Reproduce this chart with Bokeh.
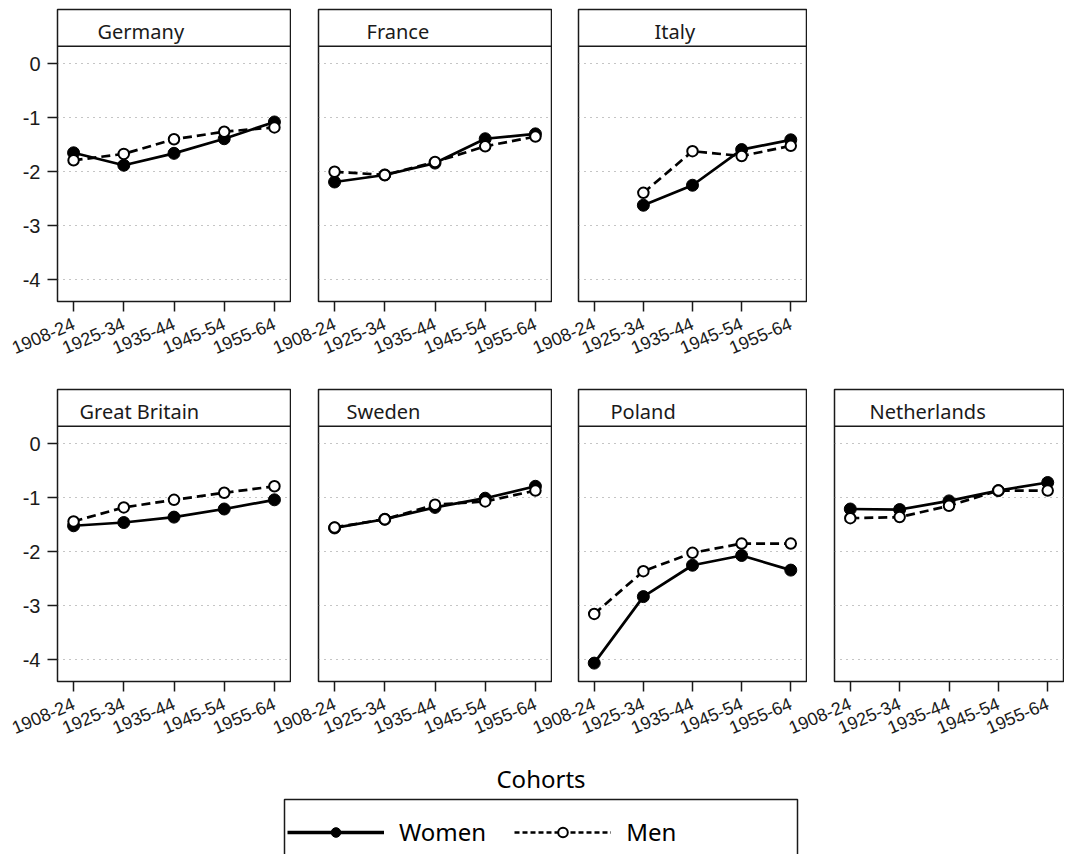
import math
from bokeh.plotting import figure
from bokeh.models import Range1d, FixedTicker, Span, Label, Legend, LegendItem, ColumnDataSource
from bokeh.layouts import column, row
from bokeh.embed import file_html
from bokeh.resources import INLINE

# ---------------- data ----------------
cohorts = ["1908-24", "1925-34", "1935-44", "1945-54", "1955-64"]
y_ticks = [0, -1, -2, -3, -4]
y_tick_labels = ["0", "-1", "-2", "-3", "-4"]
NA = float("nan")

germany_women = [-1.65, -1.88, -1.66, -1.39, -1.08]
germany_men = [-1.79, -1.67, -1.40, -1.26, -1.18]
france_women = [-2.19, -2.06, -1.84, -1.39, -1.30]
france_men = [-2.00, -2.06, -1.82, -1.53, -1.35]
italy_women = [NA, -2.62, -2.25, -1.59, -1.41]
italy_men = [NA, -2.39, -1.62, -1.71, -1.52]
britain_women = [-1.52, -1.46, -1.36, -1.21, -1.04]
britain_men = [-1.44, -1.18, -1.04, -0.91, -0.79]
sweden_women = [-1.56, -1.40, -1.18, -1.01, -0.79]
sweden_men = [-1.55, -1.40, -1.13, -1.07, -0.87]
poland_women = [-4.06, -2.83, -2.25, -2.07, -2.34]
poland_men = [-3.15, -2.36, -2.02, -1.85, -1.85]
netherlands_women = [-1.21, -1.22, -1.06, -0.87, -0.72]
netherlands_men = [-1.38, -1.36, -1.15, -0.87, -0.87]

# ---------------- layout / style ----------------
FRAME_W = [233, 233, 228, 229]
FRAME_H = 292
LEFT = [57, 87, 86, 87]
SHIFT = [0, 60, 60, 60]
INK = "#1a1a1a"
AXIS_FONT = "Liberation Sans"
STRIP_FONT = "Noto Sans"
X_RANGE = (-0.32, 4.32)
Y_RANGE = (-4.40, 1.0)
STRIP_LINE = 0.32
STRIP_TEXT_Y = 0.60

xs = list(range(len(cohorts)))


def make_panel(name, w, m, col, top_row, label_dx):
    p = figure(frame_width=FRAME_W[col], frame_height=FRAME_H,
               x_range=Range1d(*X_RANGE), y_range=Range1d(*Y_RANGE),
               min_border_left=LEFT[col], min_border_right=1,
               min_border_top=(9 if top_row else 1),
               min_border_bottom=(87 if top_row else 60),
               output_backend="svg", toolbar_location=None,
               border_fill_color=None, background_fill_color="white",
               outline_line_color=INK, outline_line_width=1.5)
    if SHIFT[col]:
        p.margin = (0, 0, 0, -SHIFT[col])

    # x axis
    xa = p.xaxis[0]
    xa.ticker = FixedTicker(ticks=xs)
    xa.major_label_overrides = {i: c for i, c in enumerate(cohorts)}
    xa.major_label_orientation = math.radians(23)
    xa.major_tick_out = 10
    xa.major_tick_in = 0
    xa.minor_tick_line_color = None
    xa.axis_line_color = None
    xa.major_tick_line_color = INK
    xa.major_tick_line_width = 1.5
    xa.major_label_text_font = AXIS_FONT
    xa.major_label_text_font_size = "18px"
    xa.major_label_text_color = INK
    xa.major_label_standoff = 11

    # y axis
    ya = p.yaxis[0]
    ya.ticker = FixedTicker(ticks=y_ticks)
    ya.major_label_overrides = {t: s for t, s in zip(y_ticks, y_tick_labels)}
    ya.major_tick_out = 10
    ya.major_tick_in = 0
    ya.minor_tick_line_color = None
    ya.axis_line_color = None
    ya.major_tick_line_color = INK
    ya.major_tick_line_width = 1.5
    ya.major_label_text_font = AXIS_FONT
    ya.major_label_text_font_size = "20px"
    ya.major_label_text_color = INK
    ya.major_label_standoff = 7
    if col != 0:
        ya.visible = False

    p.xgrid.visible = False
    p.ygrid.ticker = FixedTicker(ticks=y_ticks)
    p.ygrid.grid_line_color = "#8a8a8a"
    p.ygrid.grid_line_dash = "1 5"
    p.ygrid.grid_line_width = 1

    # strip
    p.add_layout(Span(location=STRIP_LINE, dimension="width",
                      line_color=INK, line_width=1.5))
    p.add_layout(Label(x=X_RANGE[0], y=STRIP_TEXT_Y, x_offset=label_dx,
                       text=name, text_font=STRIP_FONT, text_font_size="20px",
                       text_color=INK, text_baseline="alphabetic"))

    src = ColumnDataSource(dict(x=xs, w=w, m=m))
    p.line("x", "m", source=src, line_color="black", line_width=2.7, line_dash="9 5")
    p.line("x", "w", source=src, line_color="black", line_width=2.7)
    p.scatter("x", "w", source=src, size=12, marker="circle",
              fill_color="black", line_color="black", line_width=1)
    p.scatter("x", "m", source=src, size=10.5, marker="circle",
              fill_color="white", line_color="black", line_width=2)
    return p


top = [
    make_panel("Germany", germany_women, germany_men, 0, True, 40),
    make_panel("France", france_women, france_men, 1, True, 48),
    make_panel("Italy", italy_women, italy_men, 2, True, 76),
]
bottom = [
    make_panel("Great Britain", britain_women, britain_men, 0, False, 22),
    make_panel("Sweden", sweden_women, sweden_men, 1, False, 28),
    make_panel("Poland", poland_women, poland_men, 2, False, 32),
    make_panel("Netherlands", netherlands_women, netherlands_men, 3, False, 35),
]

# ---------------- legend figure ----------------
lg = figure(frame_width=513, frame_height=57,
            x_range=Range1d(0, 1), y_range=Range1d(0, 1),
            min_border_left=284, min_border_right=266,
            min_border_top=56, min_border_bottom=0,
            output_backend="svg", toolbar_location=None,
            outline_line_color=INK, outline_line_width=1.5,
            title="Cohorts")
lg.axis.visible = False
lg.grid.visible = False
lg.title.align = "center"
lg.title.text_font = STRIP_FONT
lg.title.text_font_size = "24px"
lg.title.text_font_style = "normal"
lg.title.text_color = "black"
lg.title.standoff = 10

# legend-only renderers: a single missing point, nothing is drawn in the frame
blank = ColumnDataSource(dict(x=[NA], y=[NA]))
lw = lg.line("x", "y", source=blank, line_color="black", line_width=3.5)
sw = lg.scatter("x", "y", source=blank, marker="circle", fill_color="black", line_color="black")
lm = lg.line("x", "y", source=blank, line_color="black", line_width=2.5, line_dash="5 3")
sm = lg.scatter("x", "y", source=blank, marker="circle", fill_color="white",
                line_color="black", line_width=2)
legend = Legend(items=[LegendItem(label="Women", renderers=[lw, sw]),
                       LegendItem(label="Men", renderers=[lm, sm])],
                orientation="horizontal", location=(3, 8),
                glyph_width=97, glyph_height=24, label_standoff=15, spacing=28,
                padding=8, margin=0, border_line_color=None,
                background_fill_alpha=0, label_text_font=STRIP_FONT,
                label_text_font_size="24px", label_text_color="black")
lg.add_layout(legend)

layout = column(row(*top), row(*bottom), lg)

with open("out.html", "w") as f:
    f.write(file_html(layout, INLINE))
